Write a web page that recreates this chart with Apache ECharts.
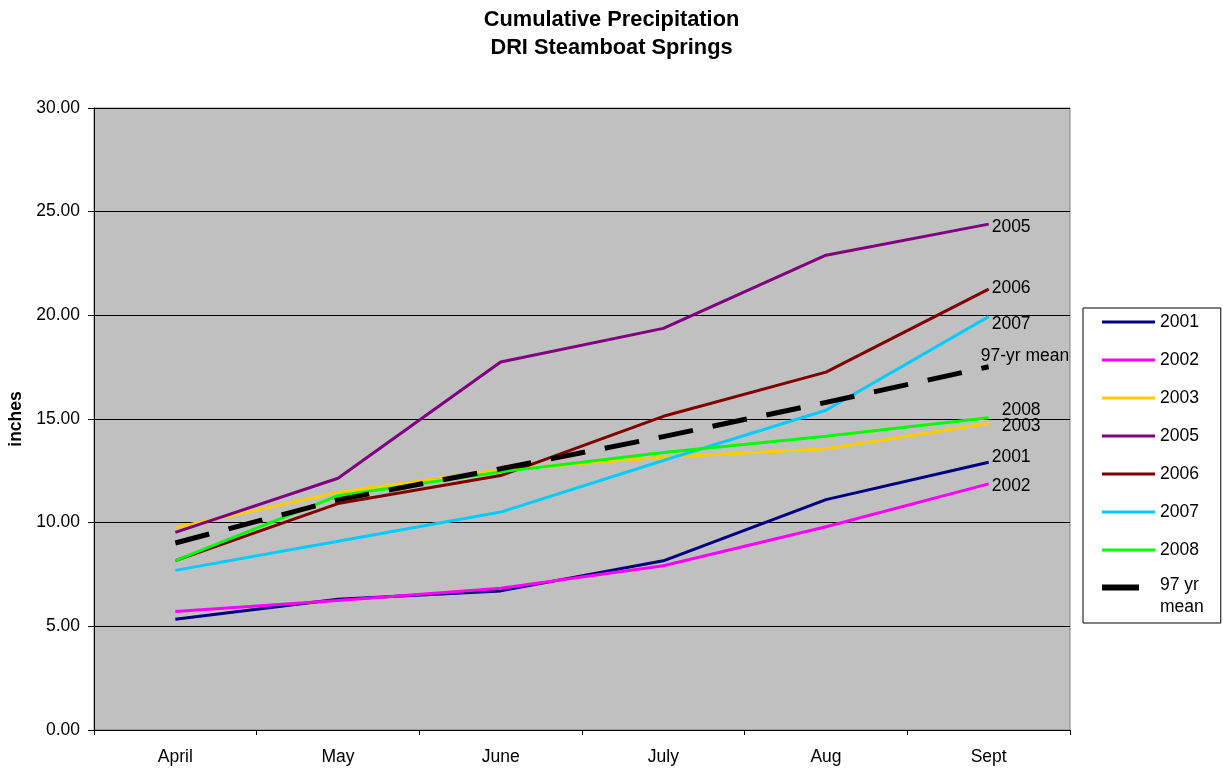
<!DOCTYPE html>
<html>
<head>
<meta charset="utf-8">
<script src="https://cdn.jsdelivr.net/npm/echarts@6/dist/echarts.min.js"></script>
<style>
  html, body { margin: 0; padding: 0; background: #fff; }
  #chart { width: 1223px; height: 769px; }
</style>
</head>
<body>
<div id="chart"></div>
<script>
// Monthly cumulative precipitation (inches), water-year totals at month end
const months = ['April', 'May', 'June', 'July', 'Aug', 'Sept'];
const yTicks = { min: 0, max: 30, step: 5 };

const p2001 = [5.34, 6.31, 6.71, 8.16, 11.11, 12.91];
const p2002 = [5.71, 6.25, 6.84, 7.92, 9.80, 11.87];
const p2003 = [9.76, 11.46, 12.55, 13.15, 13.56, 14.78];
const p2005 = [9.53, 12.14, 17.75, 19.37, 22.90, 24.40];
const p2006 = [8.17, 10.92, 12.27, 15.13, 17.26, 21.26];
const p2007 = [7.70, 9.10, 10.51, 13.00, 15.42, 19.94];
const p2008 = [8.17, 11.30, 12.45, 13.38, 14.17, 15.06];
const pMean = [9.02, 11.10, 12.60, 14.15, 15.80, 17.52];

const font = "'Liberation Sans', Arial, sans-serif";
const fs = 17.5;

// end-of-line label settings: [text, dx, dy]
const endTags = {
  '2001': ['2001', -5, -5],
  '2002': ['2002', -5, 2],
  '2003': ['2003', 5, 3],
  '2005': ['2005', -5, 3],
  '2006': ['2006', -5, -1],
  '2007': ['2007', -5, 8],
  '2008': ['2008', 5, -8],
  '97 yr mean': ['97-yr mean', -16, -11]
};

// legend swatches drawn inside a 53 x 28 box
const thinIcon = 'path://M0,0H0.01V0.01H0Z M0,12.5H53V15.5H0Z M52.99,27.99H53V28H52.99Z';
const meanIcon = 'path://M0,0H0.01V0.01H0Z M0,2.5H37V8.5H0Z M52.99,27.99H53V28H52.99Z';

function lineSeries(name, data, color) {
  const tag = endTags[name];
  return {
    name: name,
    type: 'line',
    data: data,
    symbol: 'none',
    lineStyle: { color: color, width: 3 },
    itemStyle: { color: color },
    endLabel: {
      show: true,
      formatter: tag[0],
      offset: [tag[1], tag[2]],
      color: '#000',
      fontFamily: font,
      fontSize: fs
    },
    z: 2
  };
}

const series = [
  lineSeries('2001', p2001, '#000080'),
  lineSeries('2002', p2002, '#FF00FF'),
  lineSeries('2003', p2003, '#FFCC00'),
  lineSeries('2005', p2005, '#800080'),
  lineSeries('2006', p2006, '#800000'),
  lineSeries('2007', p2007, '#00CCFF'),
  lineSeries('2008', p2008, '#00FF00'),
  lineSeries('97 yr mean', pMean, '#000000')
];
const meanS = series[series.length - 1];
meanS.lineStyle = { color: '#000', width: 5, type: [35, 20], cap: 'butt' };
meanS.z = 3;

const chart = echarts.init(document.getElementById('chart'));
chart.setOption({
  animation: false,
  backgroundColor: '#fff',
  title: {
    text: 'Cumulative Precipitation\nDRI Steamboat Springs',
    left: 'center',
    top: 6,
    padding: 0,
    textStyle: {
      fontFamily: font,
      fontSize: 21.8,
      fontWeight: 'bold',
      lineHeight: 28,
      color: '#000'
    }
  },
  legend: {
    orient: 'vertical',
    left: 1083,
    top: 308,
    padding: [0, 17, 5, 19],
    itemGap: 10,
    itemWidth: 53,
    itemHeight: 28,
    borderColor: '#000',
    borderWidth: 1,
    backgroundColor: '#fff',
    formatter: n => (n === '97 yr mean' ? '97 yr\nmean' : n),
    textStyle: { fontFamily: font, fontSize: fs, lineHeight: 22, color: '#000' },
    data: series.map(s => ({
      name: s.name,
      icon: s.name === '97 yr mean' ? meanIcon : thinIcon,
      itemStyle: { color: s.lineStyle.color, borderWidth: 0 }
    }))
  },
  grid: {
    left: 94,
    right: 153,
    top: 108,
    bottom: 39,
    outerBoundsMode: 'none',
    show: true,
    backgroundColor: '#C0C0C0',
    borderColor: '#808080',
    borderWidth: 1
  },
  xAxis: {
    type: 'category',
    data: months,
    boundaryGap: true,
    axisLine: { lineStyle: { color: '#000', width: 1 } },
    axisTick: { show: true, length: 5, lineStyle: { color: '#000' } },
    axisLabel: { margin: 18, fontFamily: font, fontSize: fs, color: '#000' },
    splitLine: { show: false }
  },
  yAxis: {
    type: 'value',
    min: yTicks.min,
    max: yTicks.max,
    interval: yTicks.step,
    name: 'inches',
    nameLocation: 'middle',
    nameGap: 69,
    nameRotate: 90,
    nameTextStyle: { fontFamily: font, fontSize: fs, fontWeight: 'bold', color: '#000' },
    axisLine: { show: true, lineStyle: { color: '#000', width: 1 } },
    axisTick: { show: true, length: 6, lineStyle: { color: '#000' } },
    axisLabel: {
      margin: 14,
      fontFamily: font,
      fontSize: fs,
      color: '#000',
      formatter: v => v.toFixed(2)
    },
    splitLine: { show: true, lineStyle: { color: '#000', width: 1 } }
  },
  series: series
});
</script>
</body>
</html>
